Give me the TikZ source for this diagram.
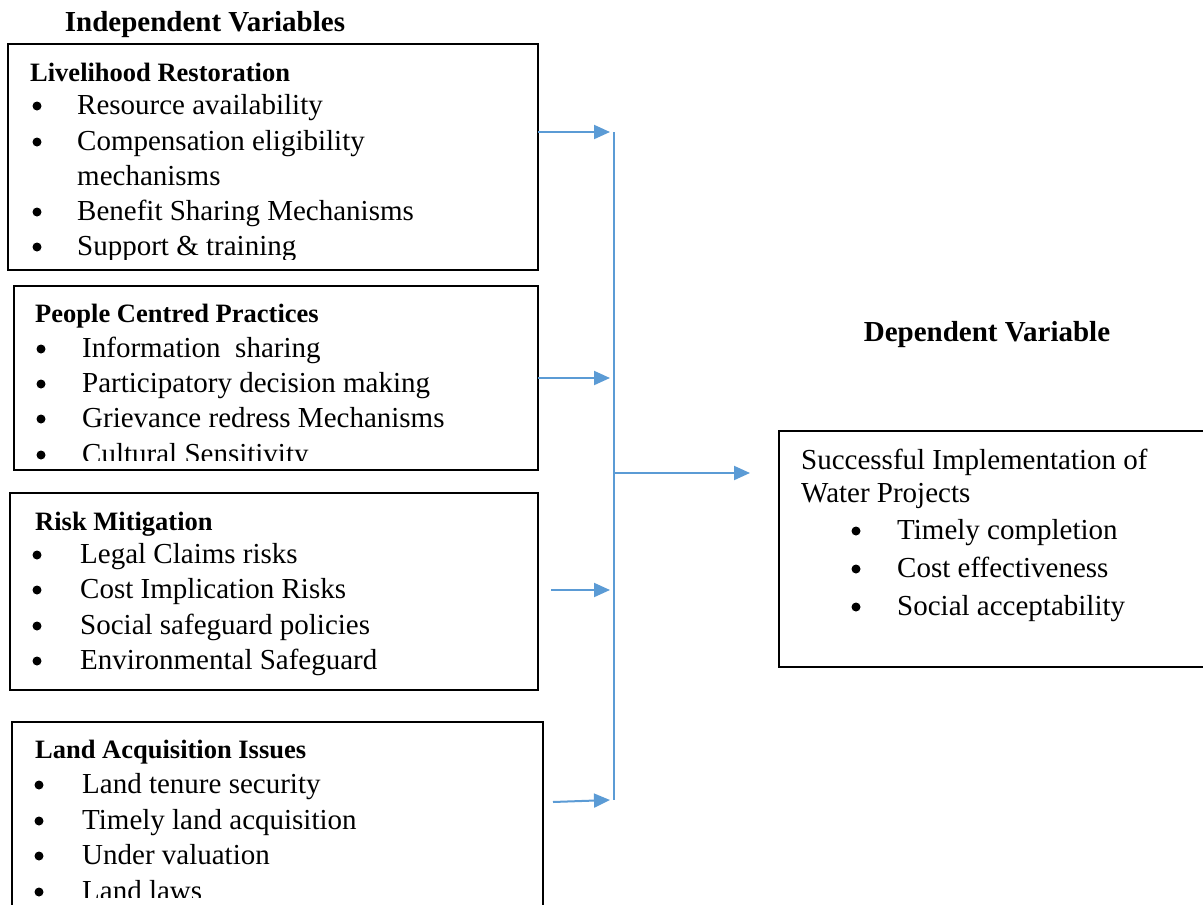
\documentclass[tikz,border=0pt]{standalone}
\usepackage{fontspec}
\setmainfont{Liberation Serif}
\usetikzlibrary{arrows.meta}
\definecolor{arrblue}{RGB}{91,155,213}
\begin{document}
\begin{tikzpicture}[x=1pt,y=-1pt,
  box/.style={draw=black, line width=2.2pt, anchor=north west, inner sep=0pt, outer sep=0pt},
  hd/.style={anchor=base west, inner sep=0pt, font=\fontsize{26.5}{30}\selectfont\bfseries},
  txt/.style={anchor=base west, inner sep=0pt, font=\fontsize{29}{35}\selectfont},
  bul/.style={circle, fill=black, inner sep=0pt, minimum size=9pt, yshift=8pt},
  ttl/.style={anchor=base, inner sep=0pt, font=\fontsize{29}{35}\selectfont\bfseries},
  arr/.style={draw=arrblue, line width=2pt, -{Triangle[length=16pt,width=14pt]}},
  lin/.style={draw=arrblue, line width=2pt}]
\clip (0,0) rectangle (1203,905);
\fill[white] (0,0) rectangle (1203,905);

% titles
\node[ttl] (tind) at (205,31) {Independent Variables};
\node[ttl] (tdep) at (987,341) {Dependent Variable};

% boxes
\node[box, minimum width=530pt, minimum height=226pt] (b1) at (8,44) {};
\node[box, minimum width=524pt, minimum height=184pt] (b2) at (14,286) {};
\node[box, minimum width=528pt, minimum height=197pt] (b3) at (10,493) {};
\node[box, minimum width=531pt, minimum height=210pt] (b4) at (12,722) {};
\node[box, minimum width=440pt, minimum height=236pt] (dep) at (779,431) {};

% box 1 text
\begin{scope}
\clip (8,44) rectangle (538,259);
\node[hd] (h1) at (30,81) {Livelihood Restoration};
\node[bul] at (37,114) {}; \node[txt] at (77,114) {Resource availability};
\node[bul] at (37,150) {}; \node[txt] at (77,150) {Compensation eligibility};
\node[txt] at (77,185) {mechanisms};
\node[bul] at (37,220) {}; \node[txt] at (77,220) {Benefit Sharing Mechanisms};
\node[bul] at (37,255) {}; \node[txt] at (77,255) {Support \& training};
\end{scope}

% box 2 text
\begin{scope}
\clip (14,286) rectangle (538,460);
\node[hd] (h2) at (35,322) {People Centred Practices};
\node[bul] at (41,357) {}; \node[txt] at (82,357) {Information\ \ sharing};
\node[bul] at (41,392) {}; \node[txt] at (82,392) {Participatory decision making};
\node[bul] at (41,427) {}; \node[txt] at (82,427) {Grievance redress Mechanisms};
\node[bul] at (41,463) {}; \node[txt] at (82,463) {Cultural Sensitivity};
\end{scope}

% box 3 text
\node[hd] (h3) at (35,530) {Risk Mitigation};
\node[bul] at (37,563) {}; \node[txt] at (80,563) {Legal Claims risks};
\node[bul] at (37,598) {}; \node[txt] at (80,598) {Cost Implication Risks};
\node[bul] at (37,634) {}; \node[txt] at (80,634) {Social safeguard policies};
\node[bul] at (37,669) {}; \node[txt] at (80,669) {Environmental Safeguard};

% box 4 text
\begin{scope}
\clip (12,722) rectangle (543,897);
\node[hd] (h4) at (35,758) {Land Acquisition Issues};
\node[bul] at (39,793) {}; \node[txt] at (82,793) {Land tenure security};
\node[bul] at (39,829) {}; \node[txt] at (82,829) {Timely land acquisition};
\node[bul] at (39,864) {}; \node[txt] at (82,864) {Under valuation};
\node[bul] at (39,900) {}; \node[txt] at (82,900) {Land laws};
\end{scope}

% dependent text
\node[txt] (d0) at (801,469) {Successful Implementation of};
\node[txt] (d1) at (801,502) {Water Projects};
\node[bul] at (856,539) {}; \node[txt] at (897,539) {Timely completion};
\node[bul] at (856,577) {}; \node[txt] at (897,577) {Cost effectiveness};
\node[bul] at (856,615) {}; \node[txt] at (897,615) {Social acceptability};

% connector coordinates
\coordinate (s1) at (b1.east |- 0,132);
\coordinate (e1) at (610,132);
\coordinate (s2) at (b2.east |- 0,378);
\coordinate (e2) at (610,378);
\coordinate (s3) at (551,590);
\coordinate (e3) at (610,590);
\coordinate (s4) at (553,802);
\coordinate (e4) at (610,800);
\coordinate (vt) at (614,132);
\coordinate (vb) at (614,800);
\coordinate (vm) at (614,473);
\coordinate (em) at (750,473);

\draw[arr] (s1) -- (e1);
\draw[arr] (s2) -- (e2);
\draw[arr] (s3) -- (e3);
\draw[arr] (s4) -- (e4);
\draw[lin] (vt) -- (vb);
\draw[arr] (vm) -- (em);
\end{tikzpicture}
\end{document}
